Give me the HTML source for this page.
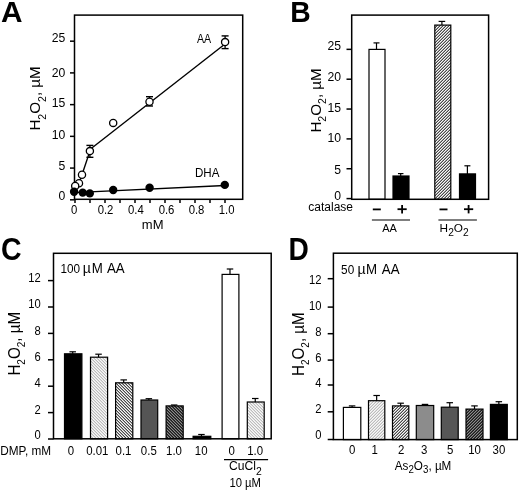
<!DOCTYPE html>
<html><head><meta charset="utf-8"><style>
html,body{margin:0;padding:0;background:#fff;width:520px;height:491px;overflow:hidden;}
svg{display:block;filter:grayscale(1) blur(0.35px);}
text{font-family:"Liberation Sans", sans-serif;fill:#000;}
</style></head><body>
<svg width="520" height="491" viewBox="0 0 520 491">
<defs><pattern id="hB" patternUnits="userSpaceOnUse" x="0" y="0" width="3" height="3" shape-rendering="crispEdges"><rect x="0" y="0" width="1" height="1" fill="#484848"/><rect x="1" y="0" width="1" height="1" fill="#f8f8f8"/><rect x="2" y="0" width="1" height="1" fill="#a8a8a8"/><rect x="0" y="1" width="1" height="1" fill="#f8f8f8"/><rect x="1" y="1" width="1" height="1" fill="#a8a8a8"/><rect x="2" y="1" width="1" height="1" fill="#484848"/><rect x="0" y="2" width="1" height="1" fill="#a8a8a8"/><rect x="1" y="2" width="1" height="1" fill="#484848"/><rect x="2" y="2" width="1" height="1" fill="#f8f8f8"/></pattern><pattern id="hCl" patternUnits="userSpaceOnUse" x="0" y="0" width="3" height="3" shape-rendering="crispEdges"><rect x="0" y="0" width="1" height="1" fill="#bcbcbc"/><rect x="1" y="0" width="1" height="1" fill="#f8f8f8"/><rect x="2" y="0" width="1" height="1" fill="#e0e0e0"/><rect x="0" y="1" width="1" height="1" fill="#e0e0e0"/><rect x="1" y="1" width="1" height="1" fill="#bcbcbc"/><rect x="2" y="1" width="1" height="1" fill="#f8f8f8"/><rect x="0" y="2" width="1" height="1" fill="#f8f8f8"/><rect x="1" y="2" width="1" height="1" fill="#e0e0e0"/><rect x="2" y="2" width="1" height="1" fill="#bcbcbc"/></pattern><pattern id="hCm" patternUnits="userSpaceOnUse" x="0" y="0" width="3" height="3" shape-rendering="crispEdges"><rect x="0" y="0" width="1" height="1" fill="#484848"/><rect x="1" y="0" width="1" height="1" fill="#f8f8f8"/><rect x="2" y="0" width="1" height="1" fill="#a8a8a8"/><rect x="0" y="1" width="1" height="1" fill="#a8a8a8"/><rect x="1" y="1" width="1" height="1" fill="#484848"/><rect x="2" y="1" width="1" height="1" fill="#f8f8f8"/><rect x="0" y="2" width="1" height="1" fill="#f8f8f8"/><rect x="1" y="2" width="1" height="1" fill="#a8a8a8"/><rect x="2" y="2" width="1" height="1" fill="#484848"/></pattern><pattern id="hCd" patternUnits="userSpaceOnUse" x="0" y="0" width="3" height="3" shape-rendering="crispEdges"><rect x="0" y="0" width="1" height="1" fill="#1c1c1c"/><rect x="1" y="0" width="1" height="1" fill="#8c8c8c"/><rect x="2" y="0" width="1" height="1" fill="#444444"/><rect x="0" y="1" width="1" height="1" fill="#444444"/><rect x="1" y="1" width="1" height="1" fill="#1c1c1c"/><rect x="2" y="1" width="1" height="1" fill="#8c8c8c"/><rect x="0" y="2" width="1" height="1" fill="#8c8c8c"/><rect x="1" y="2" width="1" height="1" fill="#444444"/><rect x="2" y="2" width="1" height="1" fill="#1c1c1c"/></pattern><pattern id="hDl" patternUnits="userSpaceOnUse" x="0" y="0" width="3" height="3" shape-rendering="crispEdges"><rect x="0" y="0" width="1" height="1" fill="#bcbcbc"/><rect x="1" y="0" width="1" height="1" fill="#f8f8f8"/><rect x="2" y="0" width="1" height="1" fill="#e0e0e0"/><rect x="0" y="1" width="1" height="1" fill="#f8f8f8"/><rect x="1" y="1" width="1" height="1" fill="#e0e0e0"/><rect x="2" y="1" width="1" height="1" fill="#bcbcbc"/><rect x="0" y="2" width="1" height="1" fill="#e0e0e0"/><rect x="1" y="2" width="1" height="1" fill="#bcbcbc"/><rect x="2" y="2" width="1" height="1" fill="#f8f8f8"/></pattern><pattern id="hDm" patternUnits="userSpaceOnUse" x="0" y="0" width="3" height="3" shape-rendering="crispEdges"><rect x="0" y="0" width="1" height="1" fill="#484848"/><rect x="1" y="0" width="1" height="1" fill="#f8f8f8"/><rect x="2" y="0" width="1" height="1" fill="#a8a8a8"/><rect x="0" y="1" width="1" height="1" fill="#f8f8f8"/><rect x="1" y="1" width="1" height="1" fill="#a8a8a8"/><rect x="2" y="1" width="1" height="1" fill="#484848"/><rect x="0" y="2" width="1" height="1" fill="#a8a8a8"/><rect x="1" y="2" width="1" height="1" fill="#484848"/><rect x="2" y="2" width="1" height="1" fill="#f8f8f8"/></pattern><pattern id="hDd" patternUnits="userSpaceOnUse" x="0" y="0" width="3" height="3" shape-rendering="crispEdges"><rect x="0" y="0" width="1" height="1" fill="#1c1c1c"/><rect x="1" y="0" width="1" height="1" fill="#8c8c8c"/><rect x="2" y="0" width="1" height="1" fill="#444444"/><rect x="0" y="1" width="1" height="1" fill="#8c8c8c"/><rect x="1" y="1" width="1" height="1" fill="#444444"/><rect x="2" y="1" width="1" height="1" fill="#1c1c1c"/><rect x="0" y="2" width="1" height="1" fill="#444444"/><rect x="1" y="2" width="1" height="1" fill="#1c1c1c"/><rect x="2" y="2" width="1" height="1" fill="#8c8c8c"/></pattern></defs>
<rect width="520" height="491" fill="#fff"/>
<text x="1.00" y="22.20" font-size="29.8" text-anchor="start" font-weight="bold" >A</text>
<rect x="74.50" y="15.10" width="168.20" height="184.20" fill="none" stroke="#000" stroke-width="1.5"/>
<line x1="70.00" y1="199.80" x2="74.50" y2="199.80" stroke="#000" stroke-width="1.5"/>
<line x1="70.00" y1="168.08" x2="74.50" y2="168.08" stroke="#000" stroke-width="1.5"/>
<line x1="70.00" y1="136.35" x2="74.50" y2="136.35" stroke="#000" stroke-width="1.5"/>
<line x1="70.00" y1="104.63" x2="74.50" y2="104.63" stroke="#000" stroke-width="1.5"/>
<line x1="70.00" y1="72.90" x2="74.50" y2="72.90" stroke="#000" stroke-width="1.5"/>
<line x1="70.00" y1="41.18" x2="74.50" y2="41.18" stroke="#000" stroke-width="1.5"/>
<text x="65.30" y="42.30" font-size="12.2" text-anchor="end" font-weight="normal" >25</text>
<text x="65.30" y="76.60" font-size="12.2" text-anchor="end" font-weight="normal" >20</text>
<text x="65.30" y="107.00" font-size="12.2" text-anchor="end" font-weight="normal" >15</text>
<text x="65.30" y="139.10" font-size="12.2" text-anchor="end" font-weight="normal" >10</text>
<text x="65.30" y="170.20" font-size="12.2" text-anchor="end" font-weight="normal" >5</text>
<text x="65.30" y="199.50" font-size="12.2" text-anchor="end" font-weight="normal" >0</text>
<line x1="75.00" y1="199.30" x2="75.00" y2="203.00" stroke="#000" stroke-width="1.5"/>
<line x1="90.00" y1="199.30" x2="90.00" y2="203.00" stroke="#000" stroke-width="1.5"/>
<line x1="105.00" y1="199.30" x2="105.00" y2="203.00" stroke="#000" stroke-width="1.5"/>
<line x1="120.00" y1="199.30" x2="120.00" y2="203.00" stroke="#000" stroke-width="1.5"/>
<line x1="135.00" y1="199.30" x2="135.00" y2="203.00" stroke="#000" stroke-width="1.5"/>
<line x1="150.00" y1="199.30" x2="150.00" y2="203.00" stroke="#000" stroke-width="1.5"/>
<line x1="165.00" y1="199.30" x2="165.00" y2="203.00" stroke="#000" stroke-width="1.5"/>
<line x1="180.00" y1="199.30" x2="180.00" y2="203.00" stroke="#000" stroke-width="1.5"/>
<line x1="195.00" y1="199.30" x2="195.00" y2="203.00" stroke="#000" stroke-width="1.5"/>
<line x1="210.00" y1="199.30" x2="210.00" y2="203.00" stroke="#000" stroke-width="1.5"/>
<line x1="225.00" y1="199.30" x2="225.00" y2="203.00" stroke="#000" stroke-width="1.5"/>
<text transform="translate(74.10,213.90) scale(0.93,1)" font-size="12.2" text-anchor="middle" font-weight="normal" >0</text>
<text transform="translate(105.50,213.90) scale(0.93,1)" font-size="12.2" text-anchor="middle" font-weight="normal" >0.2</text>
<text transform="translate(135.80,213.90) scale(0.93,1)" font-size="12.2" text-anchor="middle" font-weight="normal" >0.4</text>
<text transform="translate(166.50,213.90) scale(0.93,1)" font-size="12.2" text-anchor="middle" font-weight="normal" >0.6</text>
<text transform="translate(196.50,213.90) scale(0.93,1)" font-size="12.2" text-anchor="middle" font-weight="normal" >0.8</text>
<text transform="translate(226.60,213.90) scale(0.93,1)" font-size="12.2" text-anchor="middle" font-weight="normal" >1.0</text>
<text x="152.70" y="229.40" font-size="13.0" text-anchor="middle" font-weight="normal" >mM</text>
<text transform="translate(40.00,130.60) rotate(-90) scale(1.0,1)" font-size="15.2">H<tspan font-size="10.5" dy="5.6">2</tspan><tspan dy="-5.6">O</tspan><tspan font-size="10.5" dy="5.6">2</tspan><tspan dy="-5.6">, µM</tspan></text>
<polyline points="75.20,185.90 79.00,183.20 82.00,174.70 89.90,151.10" fill="none" stroke="#000" stroke-width="1.4"/>
<line x1="89.90" y1="149.50" x2="225.00" y2="44.00" stroke="#000" stroke-width="1.4"/>
<line x1="74.00" y1="192.60" x2="225.00" y2="185.50" stroke="#000" stroke-width="1.4"/>
<line x1="89.90" y1="145.40" x2="89.90" y2="157.30" stroke="#000" stroke-width="1.3"/>
<line x1="86.40" y1="145.40" x2="93.40" y2="145.40" stroke="#000" stroke-width="1.4"/>
<line x1="86.40" y1="157.30" x2="93.40" y2="157.30" stroke="#000" stroke-width="1.4"/>
<line x1="149.50" y1="96.70" x2="149.50" y2="106.00" stroke="#000" stroke-width="1.3"/>
<line x1="146.00" y1="96.70" x2="153.00" y2="96.70" stroke="#000" stroke-width="1.4"/>
<line x1="146.00" y1="106.00" x2="153.00" y2="106.00" stroke="#000" stroke-width="1.4"/>
<line x1="225.10" y1="35.90" x2="225.10" y2="48.60" stroke="#000" stroke-width="1.3"/>
<line x1="221.60" y1="35.90" x2="228.60" y2="35.90" stroke="#000" stroke-width="1.4"/>
<line x1="221.60" y1="48.60" x2="228.60" y2="48.60" stroke="#000" stroke-width="1.4"/>
<circle cx="79.00" cy="183.20" r="3.6" fill="#fff" stroke="#000" stroke-width="1.3"/>
<circle cx="75.20" cy="185.90" r="3.6" fill="#fff" stroke="#000" stroke-width="1.3"/>
<circle cx="82.00" cy="174.70" r="3.6" fill="#fff" stroke="#000" stroke-width="1.3"/>
<circle cx="89.90" cy="151.10" r="3.6" fill="#fff" stroke="#000" stroke-width="1.3"/>
<circle cx="113.20" cy="122.90" r="3.6" fill="#fff" stroke="#000" stroke-width="1.3"/>
<circle cx="149.50" cy="101.70" r="3.6" fill="#fff" stroke="#000" stroke-width="1.3"/>
<circle cx="225.10" cy="42.10" r="3.6" fill="#fff" stroke="#000" stroke-width="1.3"/>
<circle cx="74.10" cy="191.80" r="4.2" fill="#000"/>
<circle cx="82.70" cy="192.60" r="4.2" fill="#000"/>
<circle cx="89.80" cy="193.40" r="4.2" fill="#000"/>
<circle cx="113.20" cy="190.00" r="4.2" fill="#000"/>
<circle cx="149.60" cy="187.70" r="4.2" fill="#000"/>
<circle cx="224.80" cy="184.90" r="4.2" fill="#000"/>
<text transform="translate(196.90,42.70) scale(0.86,1)" font-size="12.4" text-anchor="start" font-weight="normal" >AA</text>
<text transform="translate(194.90,176.60) scale(0.92,1)" font-size="12.6" text-anchor="start" font-weight="normal" >DHA</text>
<text transform="translate(290.30,21.90) scale(0.96,1)" font-size="29.5" text-anchor="start" font-weight="bold" >B</text>
<line x1="346.50" y1="198.60" x2="351.70" y2="198.60" stroke="#000" stroke-width="1.5"/>
<line x1="346.50" y1="168.75" x2="351.70" y2="168.75" stroke="#000" stroke-width="1.5"/>
<line x1="346.50" y1="138.90" x2="351.70" y2="138.90" stroke="#000" stroke-width="1.5"/>
<line x1="346.50" y1="109.05" x2="351.70" y2="109.05" stroke="#000" stroke-width="1.5"/>
<line x1="346.50" y1="79.20" x2="351.70" y2="79.20" stroke="#000" stroke-width="1.5"/>
<line x1="346.50" y1="49.35" x2="351.70" y2="49.35" stroke="#000" stroke-width="1.5"/>
<text x="341.00" y="50.00" font-size="12.2" text-anchor="end" font-weight="normal" >25</text>
<text x="341.00" y="80.60" font-size="12.2" text-anchor="end" font-weight="normal" >20</text>
<text x="341.00" y="111.80" font-size="12.2" text-anchor="end" font-weight="normal" >15</text>
<text x="341.00" y="142.20" font-size="12.2" text-anchor="end" font-weight="normal" >10</text>
<text x="341.00" y="173.70" font-size="12.2" text-anchor="end" font-weight="normal" >5</text>
<text x="341.00" y="200.20" font-size="12.2" text-anchor="end" font-weight="normal" >0</text>
<text transform="translate(320.60,132.60) rotate(-90) scale(1.0,1)" font-size="15.2">H<tspan font-size="10.5" dy="5.0">2</tspan><tspan dy="-5.0">O</tspan><tspan font-size="10.5" dy="5.0">2</tspan><tspan dy="-5.0">, µM</tspan></text>
<rect x="369.00" y="49.40" width="16.00" height="149.90" fill="#fff" stroke="#000" stroke-width="1.2"/>
<line x1="376.50" y1="49.40" x2="376.50" y2="42.90" stroke="#000" stroke-width="1.2"/>
<line x1="373.50" y1="42.90" x2="379.50" y2="42.90" stroke="#000" stroke-width="1.2"/>
<rect x="393.00" y="176.00" width="16.00" height="23.30" fill="#000" stroke="#000" stroke-width="1.2"/>
<line x1="400.70" y1="176.00" x2="400.70" y2="173.60" stroke="#000" stroke-width="1.2"/>
<line x1="397.95" y1="173.60" x2="403.45" y2="173.60" stroke="#000" stroke-width="1.2"/>
<rect x="434.80" y="25.10" width="16.00" height="174.20" fill="url(#hB)" stroke="#000" stroke-width="1.2"/>
<line x1="441.90" y1="25.10" x2="441.90" y2="21.40" stroke="#000" stroke-width="1.2"/>
<line x1="438.60" y1="21.40" x2="445.20" y2="21.40" stroke="#000" stroke-width="1.2"/>
<rect x="459.50" y="173.90" width="16.00" height="25.40" fill="#000" stroke="#000" stroke-width="1.2"/>
<line x1="467.40" y1="173.90" x2="467.40" y2="165.80" stroke="#000" stroke-width="1.2"/>
<line x1="464.40" y1="165.80" x2="470.40" y2="165.80" stroke="#000" stroke-width="1.2"/>
<rect x="351.70" y="15.10" width="136.90" height="184.20" fill="none" stroke="#000" stroke-width="1.5"/>
<text x="308.30" y="211.10" font-size="12" text-anchor="start" font-weight="normal" >catalase</text>
<line x1="372.80" y1="209.40" x2="380.80" y2="209.40" stroke="#000" stroke-width="1.8"/>
<line x1="439.50" y1="209.40" x2="447.50" y2="209.40" stroke="#000" stroke-width="1.8"/>
<line x1="397.50" y1="209.20" x2="406.70" y2="209.20" stroke="#000" stroke-width="1.8"/>
<line x1="402.10" y1="205.00" x2="402.10" y2="213.40" stroke="#000" stroke-width="1.8"/>
<line x1="464.00" y1="209.20" x2="473.20" y2="209.20" stroke="#000" stroke-width="1.8"/>
<line x1="468.60" y1="205.00" x2="468.60" y2="213.40" stroke="#000" stroke-width="1.8"/>
<line x1="371.90" y1="220.00" x2="410.00" y2="220.00" stroke="#000" stroke-width="1.2"/>
<line x1="438.40" y1="220.00" x2="476.90" y2="220.00" stroke="#000" stroke-width="1.2"/>
<text x="389.60" y="231.70" font-size="11" text-anchor="middle" font-weight="normal" >AA</text>
<text x="439.6" y="231.8" font-size="11.8">H<tspan font-size="10.2" dy="4.2">2</tspan><tspan dy="-4.2">O</tspan><tspan font-size="10.2" dy="4.2">2</tspan></text>
<text transform="translate(0.90,259.70) scale(0.92,1)" font-size="31" text-anchor="start" font-weight="bold" >C</text>
<line x1="48.00" y1="439.00" x2="53.50" y2="439.00" stroke="#000" stroke-width="1.5"/>
<line x1="48.00" y1="412.60" x2="53.50" y2="412.60" stroke="#000" stroke-width="1.5"/>
<line x1="48.00" y1="386.20" x2="53.50" y2="386.20" stroke="#000" stroke-width="1.5"/>
<line x1="48.00" y1="359.80" x2="53.50" y2="359.80" stroke="#000" stroke-width="1.5"/>
<line x1="48.00" y1="333.40" x2="53.50" y2="333.40" stroke="#000" stroke-width="1.5"/>
<line x1="48.00" y1="307.00" x2="53.50" y2="307.00" stroke="#000" stroke-width="1.5"/>
<line x1="48.00" y1="280.60" x2="53.50" y2="280.60" stroke="#000" stroke-width="1.5"/>
<text transform="translate(40.80,439.20) scale(0.92,1)" font-size="12.2" text-anchor="end" font-weight="normal" >0</text>
<text transform="translate(40.80,413.80) scale(0.92,1)" font-size="12.2" text-anchor="end" font-weight="normal" >2</text>
<text transform="translate(40.80,387.40) scale(0.92,1)" font-size="12.2" text-anchor="end" font-weight="normal" >4</text>
<text transform="translate(40.80,361.00) scale(0.92,1)" font-size="12.2" text-anchor="end" font-weight="normal" >6</text>
<text transform="translate(40.80,334.60) scale(0.92,1)" font-size="12.2" text-anchor="end" font-weight="normal" >8</text>
<text transform="translate(40.80,308.20) scale(0.92,1)" font-size="12.2" text-anchor="end" font-weight="normal" >10</text>
<text transform="translate(40.80,281.80) scale(0.92,1)" font-size="12.2" text-anchor="end" font-weight="normal" >12</text>
<text transform="translate(19.90,375.60) rotate(-90) scale(0.955,1)" font-size="15.9">H<tspan font-size="10.5" dy="5.2">2</tspan><tspan dy="-5.2">O</tspan><tspan font-size="10.5" dy="5.2">2</tspan><tspan dy="-5.2">, µM</tspan></text>
<text transform="translate(60.40,272.60) scale(0.95,1)" font-size="12.4" text-anchor="start" font-weight="normal" >100</text>
<text x="82.70" y="272.60" font-size="14" text-anchor="start" font-weight="normal" >µ</text>
<text transform="translate(91.80,272.60) scale(0.95,1)" font-size="14" text-anchor="start" font-weight="normal" >M</text>
<text transform="translate(107.00,272.60) scale(0.95,1)" font-size="14" text-anchor="start" font-weight="normal" >AA</text>
<rect x="64.50" y="353.80" width="17.40" height="85.00" fill="#000" stroke="#000" stroke-width="1.2"/>
<line x1="72.70" y1="353.80" x2="72.70" y2="351.80" stroke="#000" stroke-width="1.2"/>
<line x1="69.45" y1="351.80" x2="75.95" y2="351.80" stroke="#000" stroke-width="1.2"/>
<rect x="90.50" y="357.20" width="17.10" height="81.60" fill="url(#hCl)" stroke="#000" stroke-width="1.2"/>
<line x1="98.55" y1="357.20" x2="98.55" y2="354.20" stroke="#000" stroke-width="1.2"/>
<line x1="95.30" y1="354.20" x2="101.80" y2="354.20" stroke="#000" stroke-width="1.2"/>
<rect x="115.60" y="382.80" width="17.20" height="56.00" fill="url(#hCm)" stroke="#000" stroke-width="1.2"/>
<line x1="123.70" y1="382.80" x2="123.70" y2="379.90" stroke="#000" stroke-width="1.2"/>
<line x1="120.45" y1="379.90" x2="126.95" y2="379.90" stroke="#000" stroke-width="1.2"/>
<rect x="141.00" y="400.00" width="16.70" height="38.80" fill="#555" stroke="#000" stroke-width="1.2"/>
<line x1="148.85" y1="400.00" x2="148.85" y2="398.70" stroke="#000" stroke-width="1.2"/>
<line x1="145.60" y1="398.70" x2="152.10" y2="398.70" stroke="#000" stroke-width="1.2"/>
<rect x="166.10" y="405.90" width="17.10" height="32.90" fill="url(#hCd)" stroke="#000" stroke-width="1.2"/>
<line x1="174.15" y1="405.90" x2="174.15" y2="405.00" stroke="#000" stroke-width="1.2"/>
<line x1="170.90" y1="405.00" x2="177.40" y2="405.00" stroke="#000" stroke-width="1.2"/>
<rect x="193.10" y="436.30" width="17.70" height="2.50" fill="#000" stroke="#000" stroke-width="1.2"/>
<line x1="201.45" y1="436.30" x2="201.45" y2="434.50" stroke="#000" stroke-width="1.2"/>
<line x1="198.20" y1="434.50" x2="204.70" y2="434.50" stroke="#000" stroke-width="1.2"/>
<rect x="222.10" y="274.40" width="16.80" height="164.40" fill="#fff" stroke="#000" stroke-width="1.2"/>
<line x1="230.00" y1="274.40" x2="230.00" y2="269.00" stroke="#000" stroke-width="1.2"/>
<line x1="226.75" y1="269.00" x2="233.25" y2="269.00" stroke="#000" stroke-width="1.2"/>
<rect x="247.30" y="402.00" width="16.90" height="36.80" fill="url(#hCl)" stroke="#000" stroke-width="1.2"/>
<line x1="255.25" y1="402.00" x2="255.25" y2="398.50" stroke="#000" stroke-width="1.2"/>
<line x1="252.00" y1="398.50" x2="258.50" y2="398.50" stroke="#000" stroke-width="1.2"/>
<rect x="53.50" y="253.30" width="217.70" height="185.50" fill="none" stroke="#000" stroke-width="1.5"/>
<text transform="translate(70.90,454.80) scale(0.9,1)" font-size="12.7" text-anchor="middle" font-weight="normal" >0</text>
<text transform="translate(97.30,454.80) scale(0.9,1)" font-size="12.7" text-anchor="middle" font-weight="normal" >0.01</text>
<text transform="translate(123.50,454.80) scale(0.9,1)" font-size="12.7" text-anchor="middle" font-weight="normal" >0.1</text>
<text transform="translate(148.80,454.80) scale(0.9,1)" font-size="12.7" text-anchor="middle" font-weight="normal" >0.5</text>
<text transform="translate(174.00,454.80) scale(0.9,1)" font-size="12.7" text-anchor="middle" font-weight="normal" >1.0</text>
<text transform="translate(201.20,454.80) scale(0.9,1)" font-size="12.7" text-anchor="middle" font-weight="normal" >10</text>
<text transform="translate(231.70,454.80) scale(0.9,1)" font-size="12.7" text-anchor="middle" font-weight="normal" >0</text>
<text transform="translate(255.10,454.80) scale(0.9,1)" font-size="12.7" text-anchor="middle" font-weight="normal" >1.0</text>
<text transform="translate(0.30,454.70) scale(0.95,1)" font-size="12.4" text-anchor="start" font-weight="normal" >DMP, mM</text>
<line x1="224.00" y1="459.60" x2="268.10" y2="459.60" stroke="#000" stroke-width="1.2"/>
<text x="229.0" y="469.8" font-size="12.1">CuCl<tspan font-size="10.4" dy="4.8">2</tspan></text>
<text transform="translate(229.40,486.80) scale(0.9,1)" font-size="12.5" text-anchor="start" font-weight="normal" >10 µM</text>
<text transform="translate(288.60,259.60) scale(0.92,1)" font-size="30.6" text-anchor="start" font-weight="bold" >D</text>
<line x1="327.70" y1="439.50" x2="333.40" y2="439.50" stroke="#000" stroke-width="1.5"/>
<line x1="327.70" y1="411.80" x2="333.40" y2="411.80" stroke="#000" stroke-width="1.5"/>
<line x1="327.70" y1="385.00" x2="333.40" y2="385.00" stroke="#000" stroke-width="1.5"/>
<line x1="327.70" y1="360.10" x2="333.40" y2="360.10" stroke="#000" stroke-width="1.5"/>
<line x1="327.70" y1="333.70" x2="333.40" y2="333.70" stroke="#000" stroke-width="1.5"/>
<line x1="327.70" y1="307.10" x2="333.40" y2="307.10" stroke="#000" stroke-width="1.5"/>
<line x1="327.70" y1="278.70" x2="333.40" y2="278.70" stroke="#000" stroke-width="1.5"/>
<text transform="translate(321.60,438.95) scale(0.92,1)" font-size="12.2" text-anchor="end" font-weight="normal" >0</text>
<text transform="translate(321.60,413.20) scale(0.92,1)" font-size="12.2" text-anchor="end" font-weight="normal" >2</text>
<text transform="translate(321.60,387.45) scale(0.92,1)" font-size="12.2" text-anchor="end" font-weight="normal" >4</text>
<text transform="translate(321.60,361.70) scale(0.92,1)" font-size="12.2" text-anchor="end" font-weight="normal" >6</text>
<text transform="translate(321.60,335.95) scale(0.92,1)" font-size="12.2" text-anchor="end" font-weight="normal" >8</text>
<text transform="translate(321.60,310.20) scale(0.92,1)" font-size="12.2" text-anchor="end" font-weight="normal" >10</text>
<text transform="translate(321.60,284.45) scale(0.92,1)" font-size="12.2" text-anchor="end" font-weight="normal" >12</text>
<text transform="translate(303.60,376.00) rotate(-90) scale(0.955,1)" font-size="15.9">H<tspan font-size="10.5" dy="5.2">2</tspan><tspan dy="-5.2">O</tspan><tspan font-size="10.5" dy="5.2">2</tspan><tspan dy="-5.2">, µM</tspan></text>
<text transform="translate(341.10,273.70) scale(0.95,1)" font-size="12.4" text-anchor="start" font-weight="normal" >50</text>
<text x="357.40" y="273.60" font-size="14" text-anchor="start" font-weight="normal" >µ</text>
<text transform="translate(366.00,273.60) scale(0.95,1)" font-size="14" text-anchor="start" font-weight="normal" >M</text>
<text transform="translate(381.80,273.60) scale(0.95,1)" font-size="14" text-anchor="start" font-weight="normal" >AA</text>
<rect x="343.40" y="407.40" width="17.40" height="32.20" fill="#fff" stroke="#000" stroke-width="1.2"/>
<line x1="352.10" y1="407.40" x2="352.10" y2="405.90" stroke="#000" stroke-width="1.2"/>
<line x1="348.85" y1="405.90" x2="355.35" y2="405.90" stroke="#000" stroke-width="1.2"/>
<rect x="368.50" y="400.70" width="16.30" height="38.90" fill="url(#hDl)" stroke="#000" stroke-width="1.2"/>
<line x1="376.65" y1="400.70" x2="376.65" y2="395.50" stroke="#000" stroke-width="1.2"/>
<line x1="373.40" y1="395.50" x2="379.90" y2="395.50" stroke="#000" stroke-width="1.2"/>
<rect x="392.50" y="405.90" width="16.30" height="33.70" fill="url(#hDm)" stroke="#000" stroke-width="1.2"/>
<line x1="400.65" y1="405.90" x2="400.65" y2="403.20" stroke="#000" stroke-width="1.2"/>
<line x1="397.40" y1="403.20" x2="403.90" y2="403.20" stroke="#000" stroke-width="1.2"/>
<rect x="416.30" y="405.50" width="17.40" height="34.10" fill="#8c8c8c" stroke="#000" stroke-width="1.2"/>
<line x1="425.00" y1="405.50" x2="425.00" y2="404.40" stroke="#000" stroke-width="1.2"/>
<line x1="421.75" y1="404.40" x2="428.25" y2="404.40" stroke="#000" stroke-width="1.2"/>
<rect x="441.30" y="407.20" width="16.90" height="32.40" fill="#575757" stroke="#000" stroke-width="1.2"/>
<line x1="449.75" y1="407.20" x2="449.75" y2="402.70" stroke="#000" stroke-width="1.2"/>
<line x1="446.50" y1="402.70" x2="453.00" y2="402.70" stroke="#000" stroke-width="1.2"/>
<rect x="466.00" y="409.10" width="17.00" height="30.50" fill="url(#hDd)" stroke="#000" stroke-width="1.2"/>
<line x1="474.50" y1="409.10" x2="474.50" y2="405.90" stroke="#000" stroke-width="1.2"/>
<line x1="471.25" y1="405.90" x2="477.75" y2="405.90" stroke="#000" stroke-width="1.2"/>
<rect x="490.40" y="404.40" width="16.90" height="35.20" fill="#000" stroke="#000" stroke-width="1.2"/>
<line x1="498.85" y1="404.40" x2="498.85" y2="401.70" stroke="#000" stroke-width="1.2"/>
<line x1="495.60" y1="401.70" x2="502.10" y2="401.70" stroke="#000" stroke-width="1.2"/>
<rect x="333.40" y="253.20" width="183.90" height="186.40" fill="none" stroke="#000" stroke-width="1.5"/>
<text transform="translate(352.10,454.20) scale(0.9,1)" font-size="12.7" text-anchor="middle" font-weight="normal" >0</text>
<text transform="translate(374.70,454.20) scale(0.9,1)" font-size="12.7" text-anchor="middle" font-weight="normal" >1</text>
<text transform="translate(401.20,454.20) scale(0.9,1)" font-size="12.7" text-anchor="middle" font-weight="normal" >2</text>
<text transform="translate(424.30,454.20) scale(0.9,1)" font-size="12.7" text-anchor="middle" font-weight="normal" >3</text>
<text transform="translate(450.20,454.20) scale(0.9,1)" font-size="12.7" text-anchor="middle" font-weight="normal" >5</text>
<text transform="translate(474.50,454.20) scale(0.9,1)" font-size="12.7" text-anchor="middle" font-weight="normal" >10</text>
<text transform="translate(498.90,454.20) scale(0.9,1)" font-size="12.7" text-anchor="middle" font-weight="normal" >30</text>
<text transform="translate(394.8,470.1) scale(0.9,1)" font-size="13">As<tspan font-size="10.8" dy="3.3">2</tspan><tspan dy="-3.3">O</tspan><tspan font-size="10.8" dy="3.3">3</tspan><tspan dy="-3.3">, µM</tspan></text>
</svg>
</body></html>
